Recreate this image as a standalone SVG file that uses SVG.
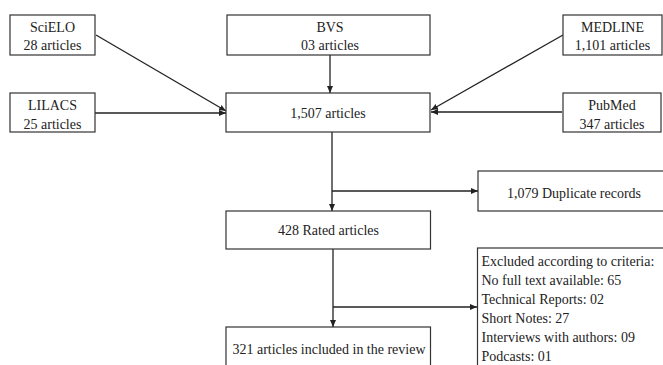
<svg xmlns="http://www.w3.org/2000/svg" width="663" height="365" viewBox="0 0 663 365">
<style>
rect{fill:#fff;stroke:#333;stroke-width:1.2}
text{font-family:'Liberation Serif','DejaVu Serif',serif;font-size:14px;fill:#222;transform-box:fill-box;transform-origin:50% 50%;transform:scaleY(1.1)}
.c{text-anchor:middle}
.ln{fill:none;stroke:#222;stroke-width:1.3}
</style>
<defs>
<marker id="ah" markerWidth="8" markerHeight="8" refX="7" refY="4" orient="auto" markerUnits="userSpaceOnUse">
<path d="M0,1 L7,4 L0,7 Z" fill="#222"/>
</marker>
</defs>
<rect x="0" y="0" width="663" height="365" style="fill:#fff;stroke:none"/>
<g id="connectors">
<line class="ln" x1="96" y1="35" x2="226" y2="111" marker-end="url(#ah)"/>
<line class="ln" x1="95" y1="113" x2="226" y2="113" marker-end="url(#ah)"/>
<line class="ln" x1="330" y1="55" x2="330" y2="93" marker-end="url(#ah)"/>
<line class="ln" x1="563" y1="35" x2="431" y2="110" marker-end="url(#ah)"/>
<line class="ln" x1="562" y1="112" x2="431" y2="112" marker-end="url(#ah)"/>
<line class="ln" x1="332" y1="132" x2="332" y2="211" marker-end="url(#ah)"/>
<line class="ln" x1="332" y1="191" x2="478" y2="191" marker-end="url(#ah)"/>
<line class="ln" x1="333" y1="249" x2="333" y2="327" marker-end="url(#ah)"/>
<line class="ln" x1="333" y1="307" x2="477" y2="307" marker-end="url(#ah)"/>
</g>
<g id="scielo"><rect x="10" y="15" width="85" height="40"/><text class="c" x="52.5" y="31.5">SciELO</text><text class="c" x="52.5" y="50">28 articles</text></g>
<g id="bvs"><rect x="227" y="15" width="203" height="40"/><text class="c" x="330" y="31.5">BVS</text><text class="c" x="330" y="50">03 articles</text></g>
<g id="medline"><rect x="563" y="15" width="99" height="40"/><text class="c" x="612.5" y="31.5">MEDLINE</text><text class="c" x="612.5" y="50">1,101 articles</text></g>
<g id="lilacs"><rect x="10" y="93" width="85" height="39"/><text class="c" x="52.5" y="110">LILACS</text><text class="c" x="52.5" y="128.5">25 articles</text></g>
<g id="total"><rect x="226" y="93" width="204" height="39"/><text class="c" x="328" y="117.5">1,507 articles</text></g>
<g id="pubmed"><rect x="563" y="93" width="98" height="39"/><text class="c" x="612" y="110">PubMed</text><text class="c" x="612" y="128.5">347 articles</text></g>
<g id="duplicates"><rect x="478" y="171" width="192" height="40"/><text class="c" x="574" y="197.5">1,079 Duplicate records</text></g>
<g id="rated"><rect x="226" y="211" width="204.5" height="38"/><text class="c" x="328.5" y="235">428 Rated articles</text></g>
<g id="excluded"><rect x="477.5" y="248" width="192" height="130"/>
<text x="481.5" y="266">Excluded according to criteria:</text>
<text x="481.5" y="285">No full text available: 65</text>
<text x="481.5" y="304">Technical Reports: 02</text>
<text x="481.5" y="323">Short Notes: 27</text>
<text x="481.5" y="342">Interviews with authors: 09</text>
<text x="481.5" y="361">Podcasts: 01</text>
</g>
<g id="included"><rect x="226" y="327" width="204.5" height="50"/><text class="c" x="329" y="353.5">321 articles included in the review</text></g>
</svg>
